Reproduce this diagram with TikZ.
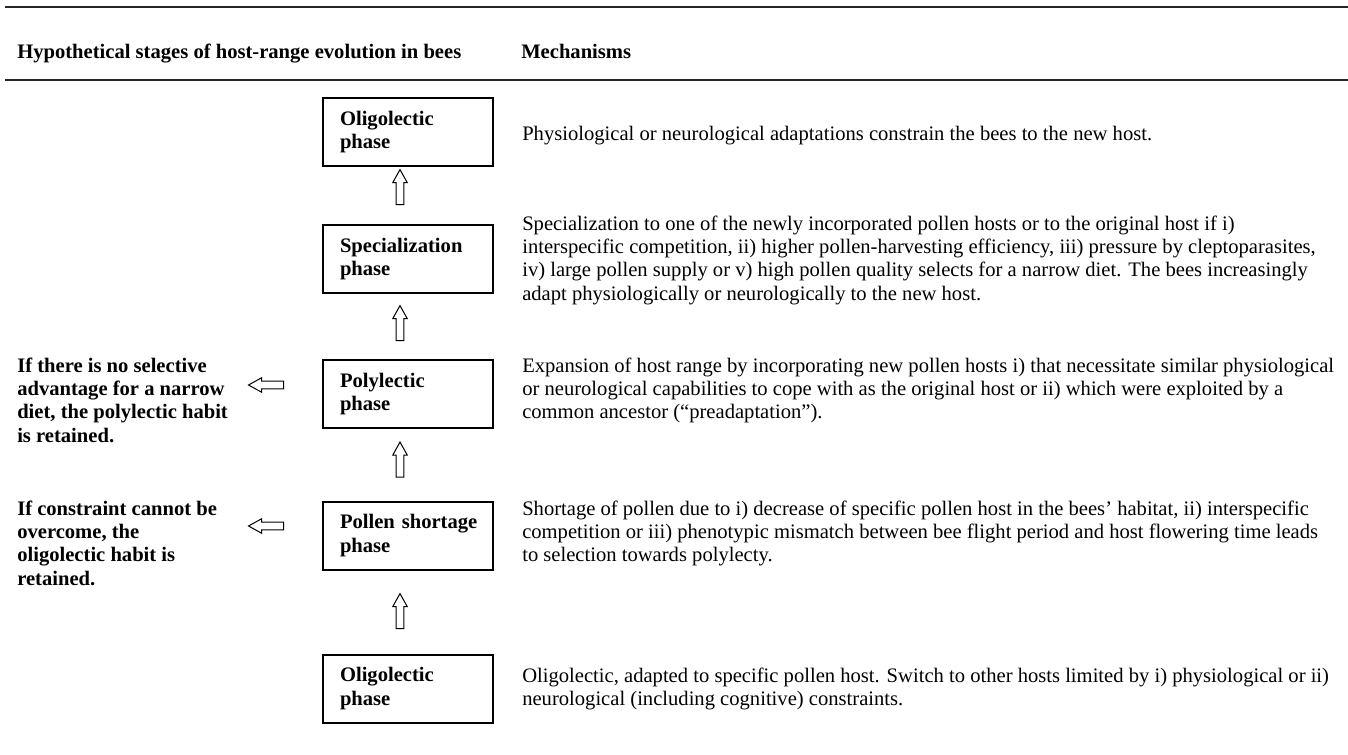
\documentclass[tikz,border=0pt]{standalone}
\usepackage{fontspec}
\setmainfont{Liberation Serif}
\usetikzlibrary{shapes.arrows}
\begin{document}
\begin{tikzpicture}[x=0.75pt,y=-0.75pt,
  every node/.style={font=\fontsize{15.45pt}{17.5pt}\selectfont},
  phasebox/.style={draw, line width=1.5pt, minimum width=127.5pt, minimum height=51pt,
    inner xsep=12.75pt, inner ysep=0pt, text width=102pt, align=left,
    font=\fontsize{15.45pt}{17.5pt}\selectfont\bfseries},
  mech/.style={anchor=north west, inner sep=0pt, align=left},
  side/.style={anchor=north west, inner sep=0pt, align=left,
    font=\fontsize{15.45pt}{17.5pt}\selectfont\bfseries},
  headtext/.style={anchor=base west, inner sep=0pt,
    font=\fontsize{15.45pt}{17.5pt}\selectfont\bfseries},
  blockarrow/.style={single arrow, draw, line width=0.75pt, fill=white,
    minimum height=26.25pt, inner xsep=0pt, inner ysep=2.5pt,
    single arrow head extend=2.6pt, single arrow tip angle=58},
  rulestyle/.style={line width=1.1pt, black!85}
]
\useasboundingbox (0,0) rectangle (1348,755);

% rules
\coordinate (r1a) at (5,7);   \coordinate (r1b) at (1348,7);
\coordinate (r2a) at (5,80);  \coordinate (r2b) at (1348,80);
\draw[rulestyle] (r1a) -- (r1b);
\draw[rulestyle] (r2a) -- (r2b);

% header
\node[headtext] (h1) at (17,59) {Hypothetical stages of host-range evolution in bees};
\node[headtext] (h2) at (521,59) {Mechanisms};

% phase boxes
\node[phasebox] (b1) at (408,132) {Oligolectic\\phase};
\node[phasebox] (b2) at (408,259) {Specialization\\phase};
\node[phasebox] (b3) at (408,394) {Polylectic\\phase};
\node[phasebox] (b4) at (408,535.5) {\mbox{Pollen shortage}\\phase};
\node[phasebox] (b5) at (408,688.5) {Oligolectic\\phase};

% up arrows
\node[blockarrow, rotate=90] (a1) at (400,190.5) {};
\node[blockarrow, rotate=90] (a2) at (400,326.5) {};
\node[blockarrow, rotate=90] (a3) at (400,463) {};
\node[blockarrow, rotate=90] (a4) at (400,614.5) {};

% left arrows
\node[blockarrow, rotate=180] (l1) at (269.5,385) {};
\node[blockarrow, rotate=180] (l2) at (269.5,526) {};

% side texts
\node[side] (s1) at (17,355.7) {\strut If there is no selective\\advantage for a narrow\\diet, the polylectic habit\\is retained.};
\node[side] (s2) at (17,498.7) {\strut If constraint cannot be\\overcome, the\\oligolectic habit is\\retained.};

% mechanisms
\node[mech] (m1) at (522,123.7) {\strut Physiological or neurological adaptations constrain the bees to the new host.};
\node[mech] (m2) at (522,213.7) {\strut Specialization to one of the newly incorporated pollen hosts or to the original host if i)\\interspecific competition, ii) higher pollen-harvesting efficiency, iii) pressure by cleptoparasites,\\iv) large pollen supply or v) high pollen quality selects for a narrow diet. The bees increasingly\\adapt physiologically or neurologically to the new host.};
\node[mech] (m3) at (522,355.7) {\strut Expansion of host range by incorporating new pollen hosts i) that necessitate similar physiological\\or neurological capabilities to cope with as the original host or ii) which were exploited by a\\common ancestor (“preadaptation”).};
\node[mech] (m4) at (522,498.7) {\strut Shortage of pollen due to i) decrease of specific pollen host in the bees’ habitat, ii) interspecific\\competition or iii) phenotypic mismatch between bee flight period and host flowering time leads\\to selection towards polylecty.};
\node[mech] (m5) at (522,665.7) {\strut Oligolectic, adapted to specific pollen host. Switch to other hosts limited by i) physiological or ii)\\neurological (including cognitive) constraints.};
\end{tikzpicture}
\end{document}
